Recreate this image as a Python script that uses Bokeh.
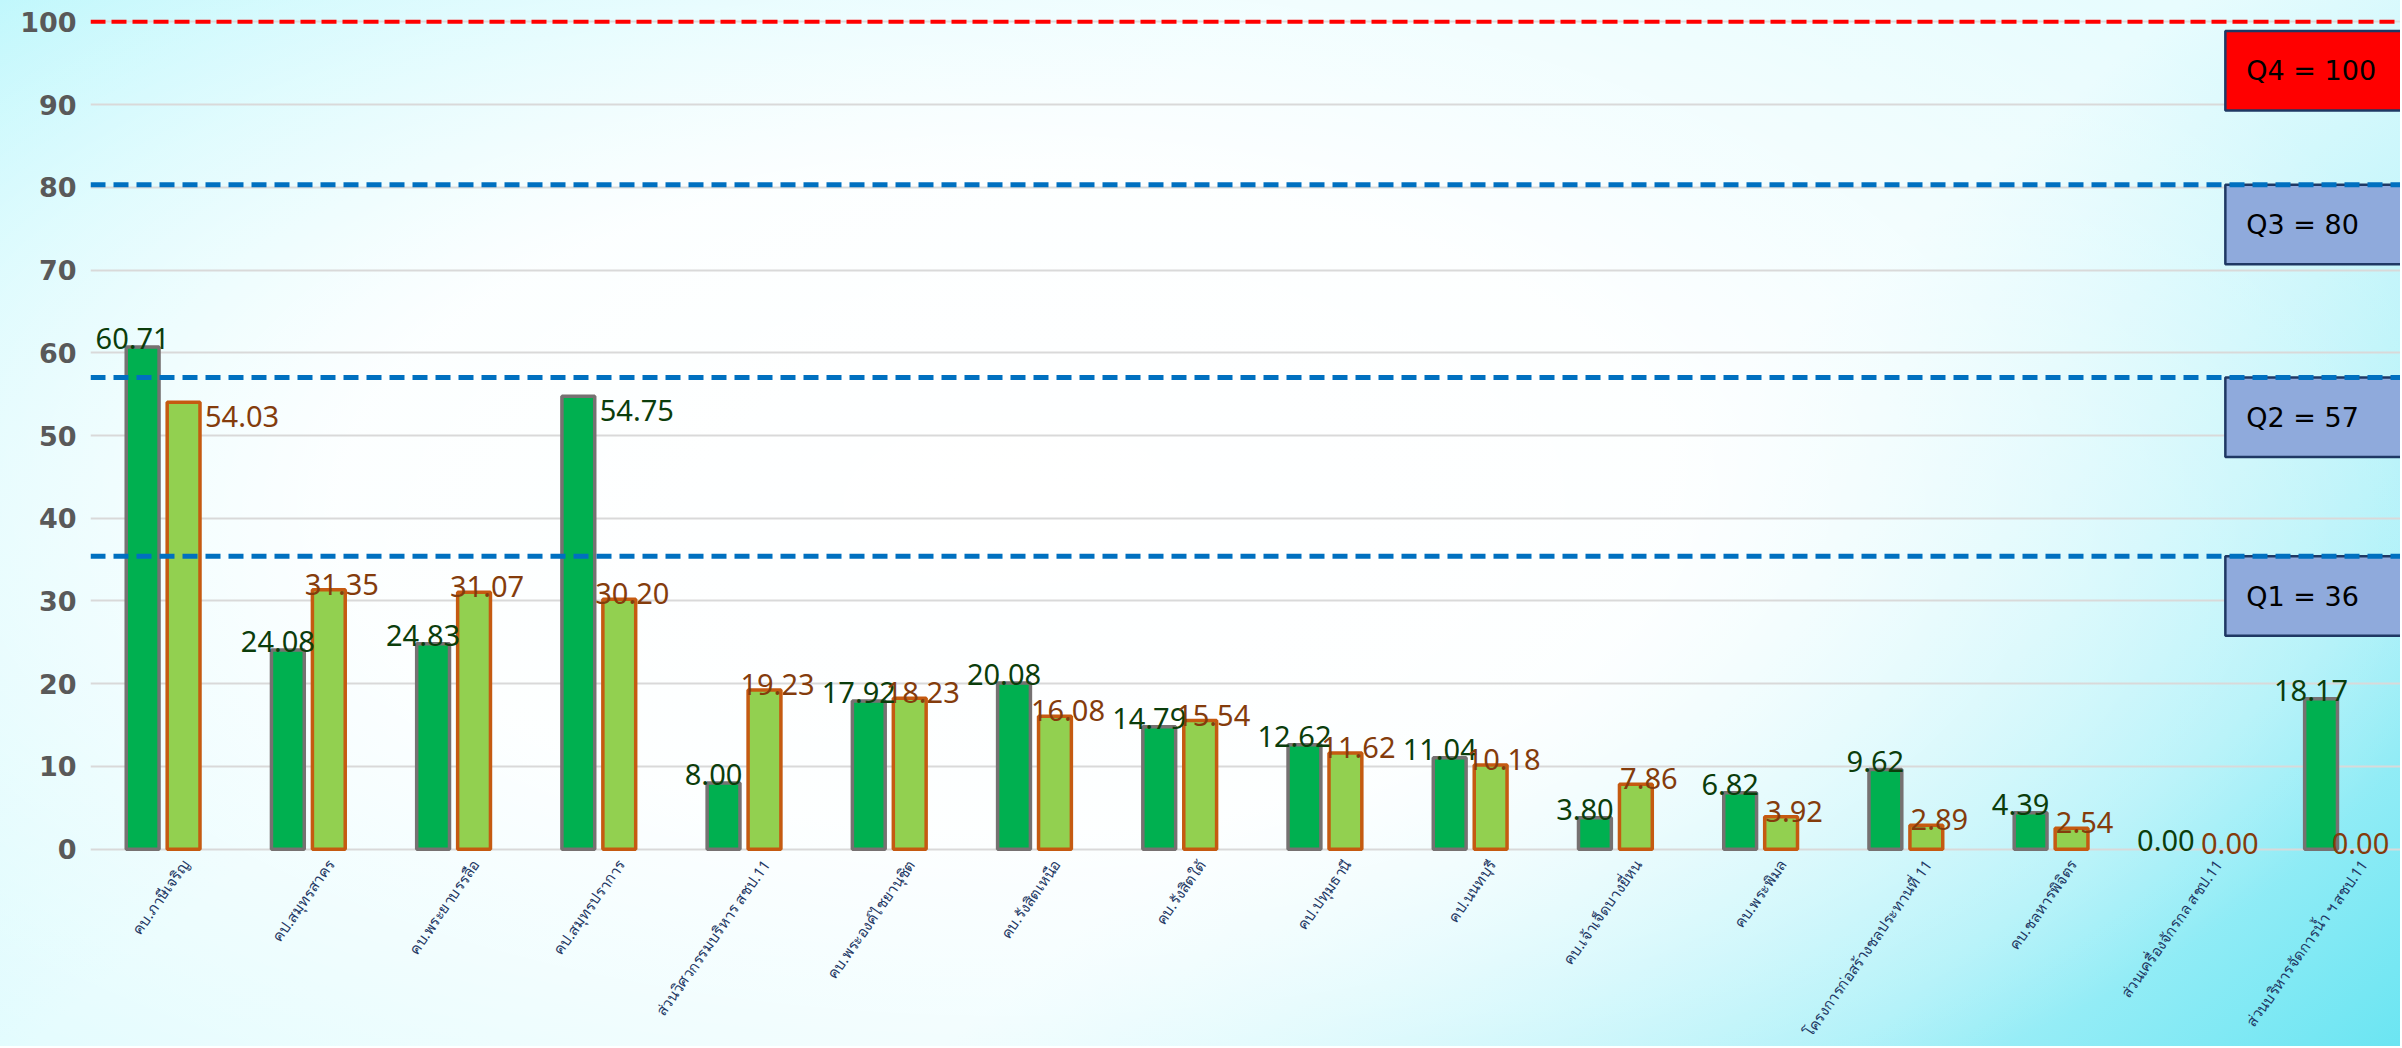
import math
from bokeh.plotting import figure
from bokeh.models import Range1d, FixedTicker, Span, ColumnDataSource
from bokeh.core.properties import value
from bokeh.embed import file_html
from bokeh.resources import INLINE

# ---------------- data ----------------
categories = [
    "คบ.ภาษีเจริญ", "คป.สมุทรสาคร", "คบ.พระยาบรรลือ", "คป.สมุทรปราการ",
    "ส่วนวิศวกรรมบริหาร สชป.11", "คบ.พระองค์ไชยานุชิต", "คบ.รังสิตเหนือ",
    "คบ.รังสิตใต้", "คป.ปทุมธานี", "คป.นนทบุรี", "คบ.เจ้าเจ็ดบางยี่หน",
    "คบ.พระพิมล", "โครงการก่อสร้างชลประทานที่ 11", "คบ.ชลหารพิจิตร",
    "ส่วนเครื่องจักรกล สชป.11", "ส่วนบริหารจัดการน้ำ ฯ สชป.11",
]
series_a = [60.71, 24.08, 24.83, 54.75, 8.00, 17.92, 20.08, 14.79,
            12.62, 11.04, 3.80, 6.82, 9.62, 4.39, 0.00, 18.17]
series_b = [54.03, 31.35, 31.07, 30.20, 19.23, 18.23, 16.08, 15.54,
            11.62, 10.18, 7.86, 3.92, 2.89, 2.54, 0.00, 0.00]
quartile_lines = [35.4, 57.0, 80.3, 100.0]
quartile_labels = ["Q1 = 36", "Q2 = 57", "Q3 = 80", "Q4 = 100"]
y_ticks = [0, 10, 20, 30, 40, 50, 60, 70, 80, 90, 100]

# labels placed to the right of the bar top instead of above it
right_side_a = {3}
right_side_b = {0}

# ---------------- styling ----------------
GREEN = "#00B050"
GREEN_EDGE = "#767171"
LIGHT = "#92D050"
LIGHT_EDGE = "#C55A11"
TXT_A = "#0B3D0B"
TXT_B = "#843C0C"
NUM_FONT = value("Noto Sans")
OFF = 0.141
BW = 0.226
X_END = 15.406
PX_PER_CAT = 145.2

n = len(categories)
p = figure(width=2400, height=1046, output_backend="svg", toolbar_location=None,
           x_range=Range1d(-0.5, X_END), y_range=Range1d(-23.85, 102.1),
           min_border_left=90, min_border_right=0, min_border_top=4,
           min_border_bottom=0)
p.background_fill_color = None
p.border_fill_color = None
p.outline_line_color = None
p.styles = {
    "background-image": (
        "radial-gradient(ellipse 62% 70% at 42% 48%, rgba(255,255,255,1) 0%, "
        "rgba(255,255,255,0.92) 45%, rgba(255,255,255,0) 100%), "
        "linear-gradient(140deg, #BDF7FC 0%, #E4FCFE 35%, #E8FCFE 60%, #A8F0F8 85%, #6BE5F2 100%)"
    )
}

# grid (the 0 line doubles as the category axis line)
p.xgrid.grid_line_color = None
p.ygrid.ticker = FixedTicker(ticks=y_ticks)
p.ygrid.grid_line_color = "#D9D9D9"
p.ygrid.grid_line_width = 2

# y axis
p.yaxis.ticker = FixedTicker(ticks=y_ticks)
p.yaxis.axis_line_color = None
p.yaxis.major_tick_line_color = None
p.yaxis.minor_tick_line_color = None
p.yaxis.major_label_text_font = "DejaVu Sans"
p.yaxis.major_label_text_font_size = "27px"
p.yaxis.major_label_text_font_style = "bold"
p.yaxis.major_label_text_color = "#595959"
p.yaxis.major_label_standoff = 8

# category names, rotated, below the zero line
p.xaxis.visible = False
p.text(x=list(range(n)), y=[0] * n, text=categories,
       x_offset=22, y_offset=12, angle=math.radians(55),
       text_align="right", text_baseline="middle",
       text_font=value("Noto Sans"), text_font_size="15px",
       text_color="#1F3864")

# bars (zero values have no visible bar)
xa = [i - OFF for i in range(n)]
xb = [i + OFF for i in range(n)]
src_a = ColumnDataSource(dict(x=[x for x, v in zip(xa, series_a) if v > 0],
                              top=[v for v in series_a if v > 0]))
src_b = ColumnDataSource(dict(x=[x for x, v in zip(xb, series_b) if v > 0],
                              top=[v for v in series_b if v > 0]))
p.vbar(x="x", top="top", bottom=0, width=BW, source=src_a,
       fill_color=GREEN, line_color=GREEN_EDGE, line_width=3.5)
p.vbar(x="x", top="top", bottom=0, width=BW, source=src_b,
       fill_color=LIGHT, line_color=LIGHT_EDGE, line_width=3.5)

# quartile lines
for q in quartile_lines:
    is_top = q == max(quartile_lines)
    p.add_layout(Span(location=q, dimension="width",
                      line_color="#FF0000" if is_top else "#0070C0",
                      line_width=4 if is_top else 5,
                      line_dash="15 6" if is_top else "15 8"))

# quartile boxes
box_left = 14.2
box_h = 9.6
tops = [q - (1.1 if q == max(quartile_lines) else 0) for q in quartile_lines]
fills = ["#FF0000" if q == max(quartile_lines) else "#8FAADC" for q in quartile_lines]
p.quad(left=box_left, right=16.5, top=tops, bottom=[t - box_h for t in tops],
       fill_color=fills, line_color="#1F3864", line_width=2.5)
p.text(x=[box_left] * len(tops), y=[t - box_h / 2 for t in tops], text=quartile_labels,
       x_offset=21, text_align="left", text_baseline="middle",
       text_font=value("DejaVu Sans"), text_font_size="27px", text_color="#000000")

# value labels
HALF_LABEL = 40 / PX_PER_CAT   # keep a label inside the right edge

def add_labels(xs, vals, color, dx, dy, right_set):
    top_x, top_y, top_t = [], [], []
    r_x, r_y, r_t = [], [], []
    for i, (x, v) in enumerate(zip(xs, vals)):
        if i in right_set:
            r_x.append(x + BW / 2); r_y.append(v); r_t.append(f"{v:.2f}")
        else:
            cx = min(x + dx / PX_PER_CAT, X_END - HALF_LABEL)
            top_x.append(cx); top_y.append(v); top_t.append(f"{v:.2f}")
    p.text(x=top_x, y=top_y, text=top_t, y_offset=dy,
           text_align="center", text_baseline="bottom",
           text_font=NUM_FONT, text_font_size="29px", text_color=color)
    if r_x:
        p.text(x=r_x, y=r_y, text=r_t, x_offset=5, y_offset=4,
               text_align="left", text_baseline="top",
               text_font=NUM_FONT, text_font_size="29px", text_color=color)

add_labels(xa, series_a, TXT_A, -10, 2, right_side_a)
add_labels(xb, series_b, TXT_B, 13, 5, right_side_b)

open("out.html", "w").write(file_html(p, INLINE))
